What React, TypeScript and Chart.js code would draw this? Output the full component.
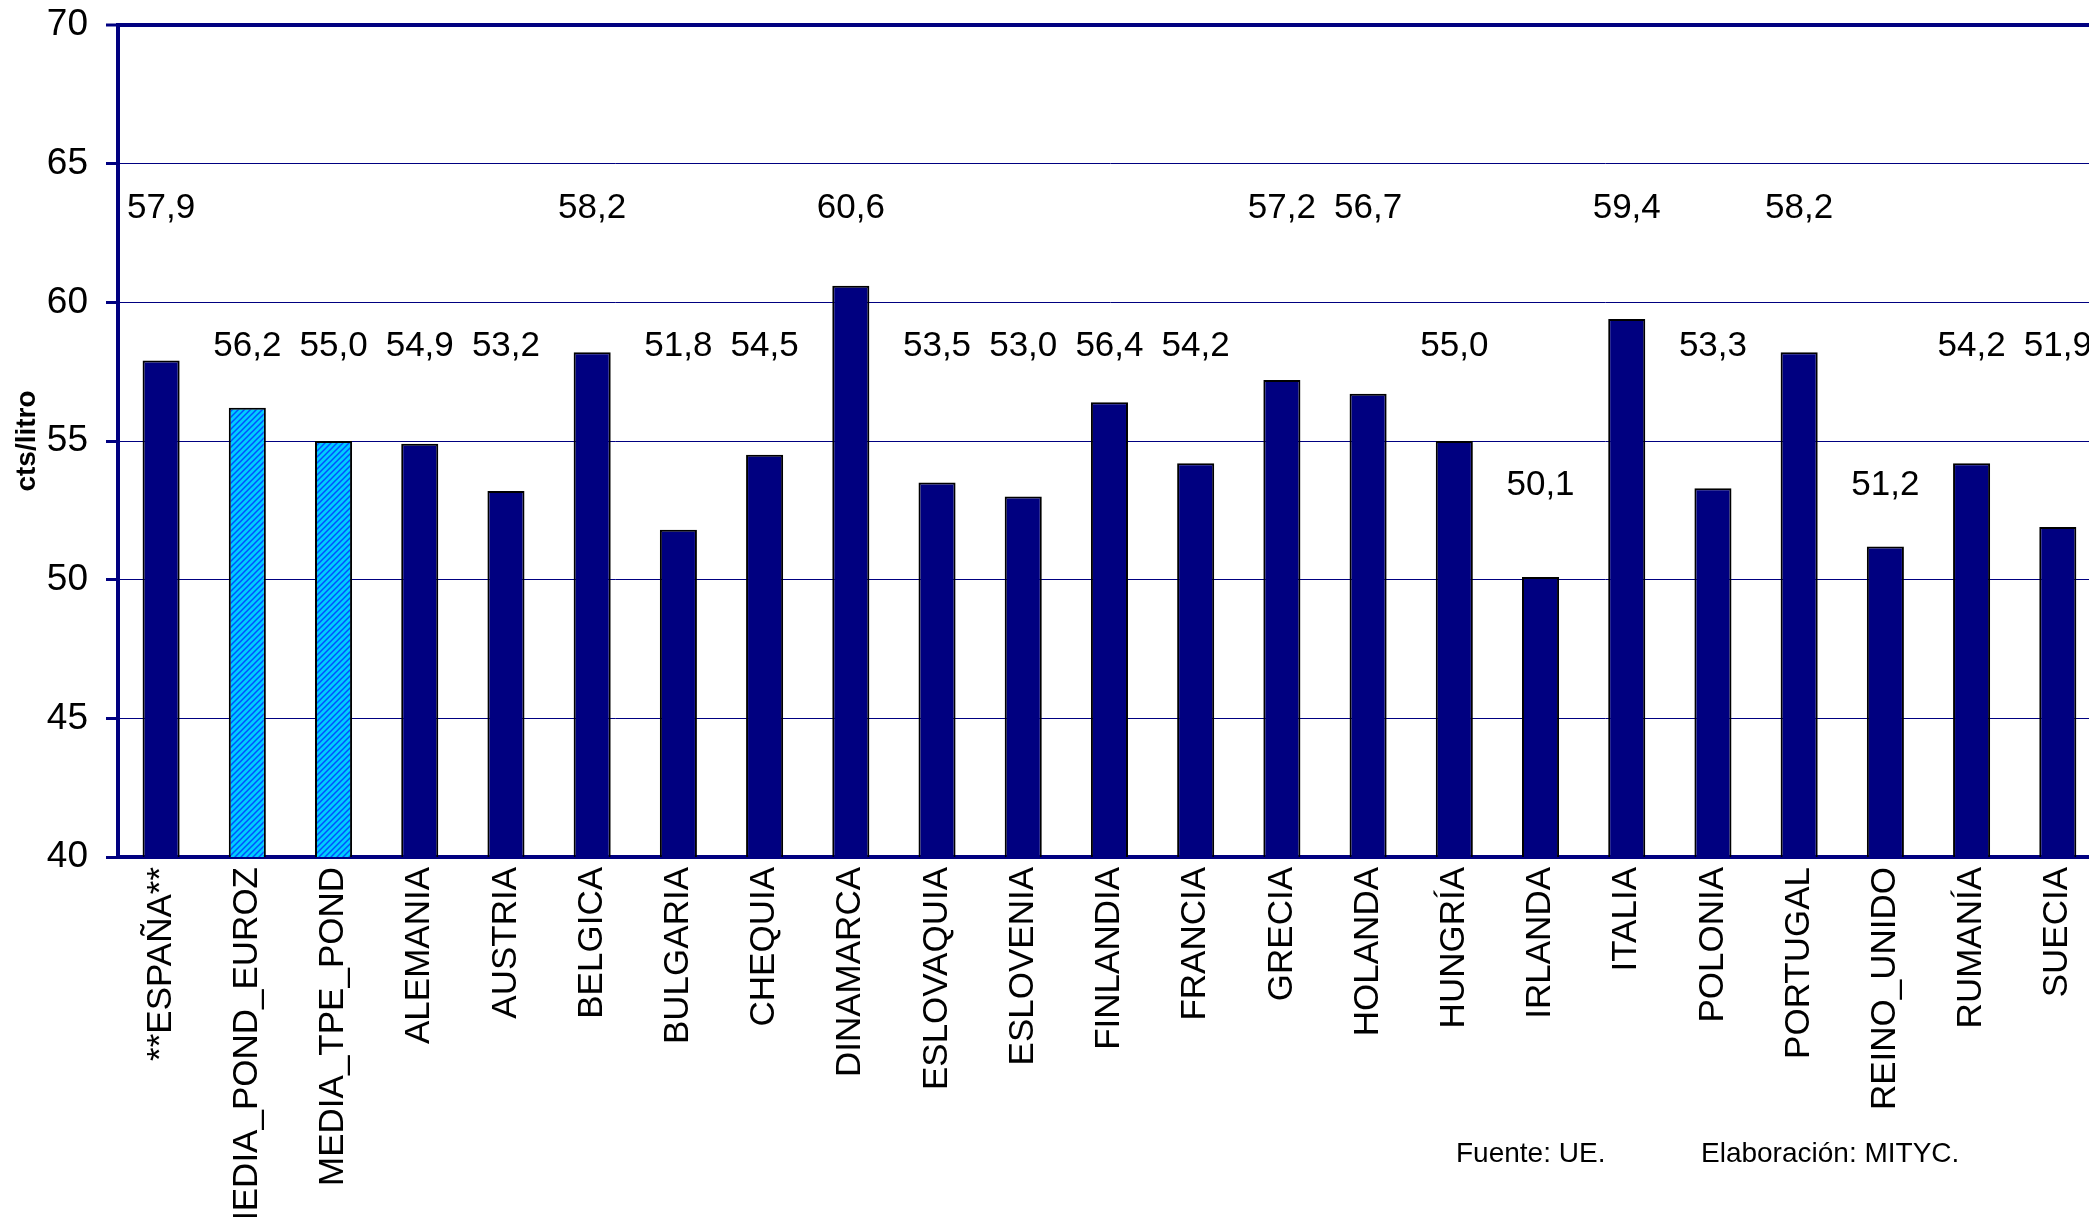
import React, { useEffect, useRef } from "react";
import { Chart, registerables } from "chart.js";

Chart.register(...registerables);

const categories = [
  "**ESPAÑA**", "MEDIA_POND_EUROZ", "MEDIA_TPE_POND", "ALEMANIA", "AUSTRIA", "BELGICA",
  "BULGARIA", "CHEQUIA", "DINAMARCA", "ESLOVAQUIA", "ESLOVENIA", "FINLANDIA", "FRANCIA",
  "GRECIA", "HOLANDA", "HUNGRÍA", "IRLANDA", "ITALIA", "POLONIA", "PORTUGAL",
  "REINO_UNIDO", "RUMANÍA", "SUECIA",
];
const values = [
  57.9, 56.2, 55.0, 54.9, 53.2, 58.2, 51.8, 54.5, 60.6, 53.5, 53.0, 56.4, 54.2,
  57.2, 56.7, 55.0, 50.1, 59.4, 53.3, 58.2, 51.2, 54.2, 51.9,
];
const hatchedCategories = ["MEDIA_POND_EUROZ", "MEDIA_TPE_POND"];
const yTitle = "cts/litro";
const sourceText = "Fuente: UE.";
const authorText = "Elaboración: MITYC.";

const NAVY = "#000080";
const FONT = "'Liberation Sans', Arial, sans-serif";

function makeHatch(): CanvasPattern | string {
  const c = document.createElement("canvas");
  c.width = 6;
  c.height = 6;
  const g = c.getContext("2d");
  if (!g) return "#00CCFF";
  g.fillStyle = "#00CCFF";
  g.fillRect(0, 0, 6, 6);
  g.strokeStyle = "#0050FF";
  g.lineWidth = 1.5;
  g.beginPath();
  g.moveTo(-1, 7); g.lineTo(7, -1);
  g.moveTo(-1, 1); g.lineTo(1, -1);
  g.moveTo(5, 7); g.lineTo(7, 5);
  g.stroke();
  const p = g.createPattern(c, "repeat");
  return p || "#00CCFF";
}

const labelsPlugin = {
  id: "customLabels",
  afterDatasetsDraw(chart: any) {
    const { ctx } = chart;
    const meta = chart.getDatasetMeta(0);
    const yScale = chart.scales.y;
    ctx.save();
    ctx.fillStyle = "#000";
    ctx.font = `35px ${FONT}`;
    ctx.textAlign = "center";
    ctx.textBaseline = "middle";
    meta.data.forEach((bar: any, i: number) => {
      const v = values[i];
      const row = 53.4 + 5 * (Math.floor((v - 51.5) / 5) + 1);
      const y = yScale.getPixelForValue(row);
      ctx.fillText(v.toFixed(1).replace(".", ","), bar.x, y);
    });
    // y title
    ctx.save();
    ctx.translate(27, 441);
    ctx.rotate(-Math.PI / 2);
    ctx.font = `bold 28px ${FONT}`;
    ctx.fillText(yTitle, 0, 0);
    ctx.restore();
    // source
    ctx.font = `28px ${FONT}`;
    ctx.textAlign = "left";
    ctx.fillText(sourceText, 1456, 1154);
    ctx.fillText(authorText, 1701, 1154);
    ctx.restore();
  },
};

export default function App() {
  const ref = useRef<HTMLCanvasElement>(null);
  useEffect(() => {
    if (!ref.current) return;
    const hatch = makeHatch();
    const colors = categories.map((c) => (hatchedCategories.includes(c) ? hatch : NAVY));
    const chart = new Chart(ref.current, {
      type: "bar",
      data: {
        labels: categories,
        datasets: [
          {
            data: values,
            backgroundColor: colors as any,
            borderColor: "#000",
            borderWidth: 2,
            categoryPercentage: 1,
            barPercentage: 0.43,
          },
        ],
      },
      plugins: [labelsPlugin],
      options: {
        animation: false,
        responsive: false,
        devicePixelRatio: 1,
        layout: { padding: { top: 25, right: 9, left: 0, bottom: 0 } },
        plugins: { legend: { display: false }, tooltip: { enabled: false } },
        scales: {
          x: {
            afterFit: (s: any) => { s.height = 1300 - 857; },
            grid: { display: true, drawOnChartArea: false, drawTicks: false },
            border: { display: true, color: NAVY, width: 4 },
            ticks: {
              autoSkip: false,
              minRotation: 90,
              maxRotation: 90,
              padding: 10,
              color: "#000",
              font: { family: FONT, size: 35 },
            },
          },
          y: {
            min: 40,
            max: 70,
            afterFit: (s: any) => { s.width = 118; s.paddingTop = 0; s.paddingBottom = 0; },
            grid: {
              color: NAVY,
              lineWidth: (c: any) => (c.tick && c.tick.value === 70 ? 4 : 1),
              tickColor: NAVY,
              tickWidth: 3,
              tickLength: 12,
            },
            border: { display: true, color: NAVY, width: 4 },
            ticks: {
              stepSize: 5,
              padding: 18,
              color: "#000",
              font: { family: FONT, size: 37 },
            },
          },
        },
      },
    });
    return () => chart.destroy();
  }, []);
  return (
    <div style={{ position: "fixed", left: 0, top: 0, width: "100vw", height: "100vh", overflow: "hidden", background: "#fff" }}>
      <canvas ref={ref} width={2110} height={1300} style={{ display: "block" }} />
    </div>
  );
}
